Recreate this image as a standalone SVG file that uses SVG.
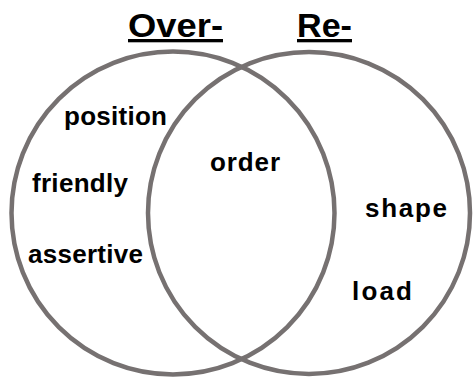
<svg xmlns="http://www.w3.org/2000/svg" width="474" height="377" viewBox="0 0 474 377">
<style>
.circ{fill:none;stroke:#767171;stroke-width:4.5}
.title{font-family:"Liberation Sans",Arial,sans-serif;font-weight:bold;font-size:33px;fill:#000;text-decoration:underline}
.lbl{font-family:"Liberation Sans",Arial,sans-serif;font-weight:bold;font-size:26px;fill:#000}
</style>
<rect width="474" height="377" fill="#fff"/>
<g id="over">
<circle class="circ" cx="173" cy="213" r="161.5"/>
<text class="title" x="128" y="37" textLength="95" lengthAdjust="spacingAndGlyphs">Over-</text>
</g>
<g id="re">
<circle class="circ" cx="309" cy="213" r="161"/>
<text class="title" x="297" y="37" textLength="55" lengthAdjust="spacingAndGlyphs">Re-</text>
</g>
<g id="labels">
<text class="lbl" x="64" y="125" textLength="103">position</text>
<text class="lbl" x="32" y="192" textLength="96">friendly</text>
<text class="lbl" x="28" y="263" textLength="115">assertive</text>
<text class="lbl" x="210" y="171" textLength="70">order</text>
<text class="lbl" x="365" y="217" textLength="82">shape</text>
<text class="lbl" x="352" y="300" textLength="60">load</text>
</g>
</svg>
